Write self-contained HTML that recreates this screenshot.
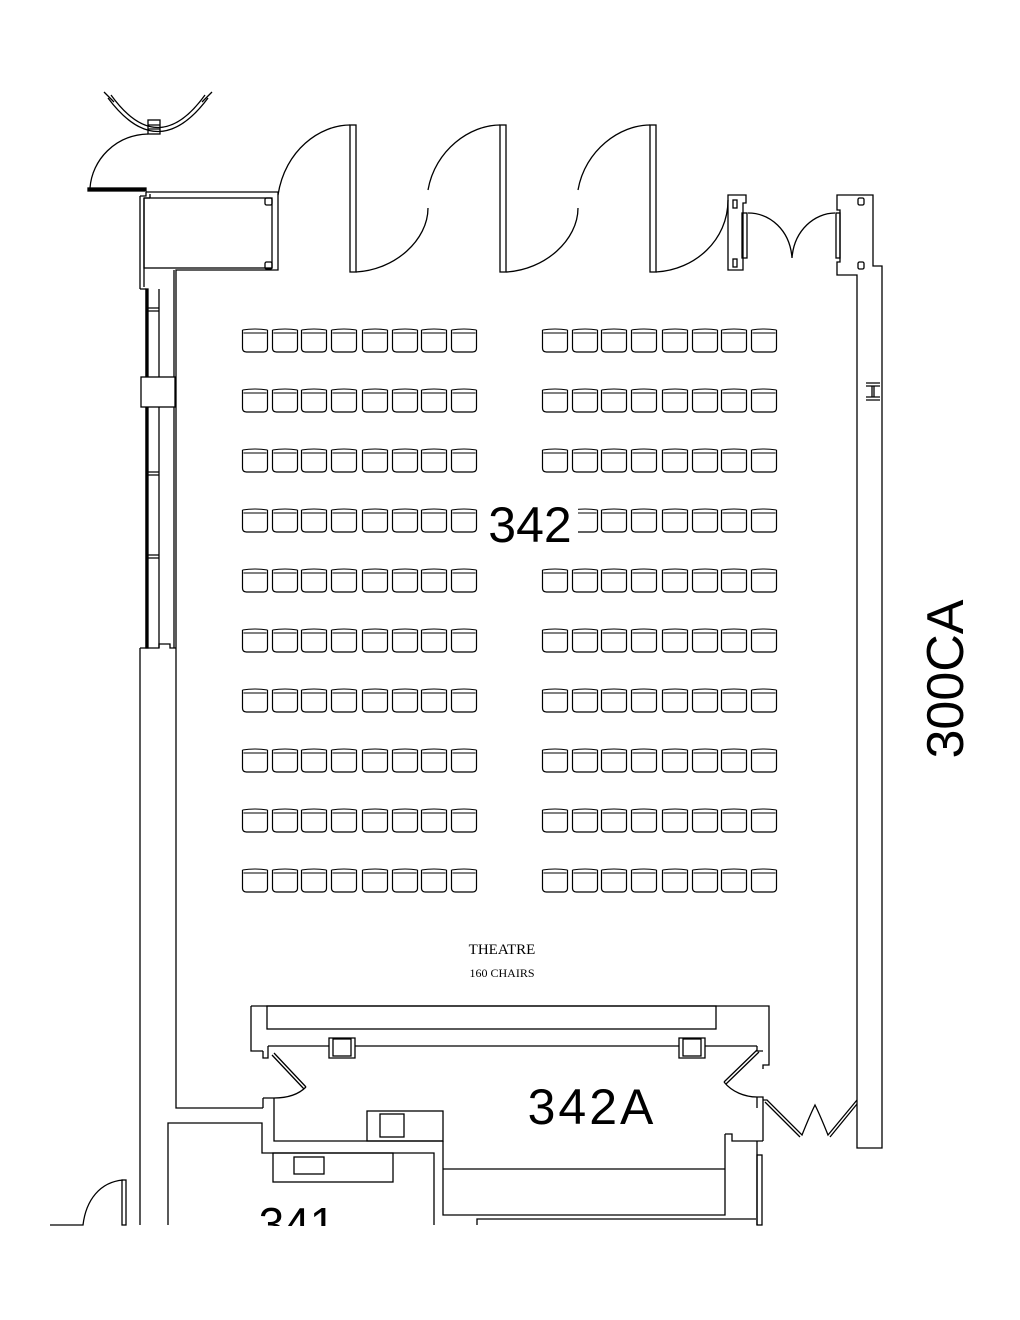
<!DOCTYPE html>
<html><head><meta charset="utf-8"><style>
html,body{margin:0;padding:0;background:#fff;}
svg{display:block}
text{font-family:"Liberation Sans",sans-serif;}
</style></head><body>
<svg width="1020" height="1320" viewBox="0 0 1020 1320" xmlns="http://www.w3.org/2000/svg">
<defs>
<g id="c"><path d="M0.5 2 L0.5 20 Q0.5 24 4.5 24 L21.5 24 Q25.5 24 25.5 20 L25.5 2" fill="none" stroke="#000" stroke-width="1.2"/><path d="M0.5 2 Q13 0 25.5 2 M1.5 5 L24.5 5" fill="none" stroke="#000" stroke-width="1"/></g>
<g id="r"><use href="#c" x="0"/><use href="#c" x="30"/><use href="#c" x="59"/><use href="#c" x="89"/><use href="#c" x="120"/><use href="#c" x="150"/><use href="#c" x="179"/><use href="#c" x="209"/></g>
<g id="rr"><use href="#r" x="242"/><use href="#r" x="542"/></g>
</defs>
<g fill="none" stroke="#000" stroke-width="1.3">
<path d="M108 98 Q158 165 208 98"/><path d="M111 95 Q158 160 205 95"/>
<path d="M104 92 L114 102 M212 92 L202 102"/>
<rect x="148" y="120" width="12" height="14"/><path d="M148 125 H160 M148 129 H160"/>
<path d="M90 188 C92 160 115 135 148 134"/>
<rect x="88" y="188" width="58" height="3" fill="#000"/>
<path d="M146 192 L278 192 L278 270 L176 270 L176 1108 L263 1108"/>
<path d="M140 196 L146 196 L146 192 M140 196 L140 289 M140 648 L140 1225"/>
<path d="M144 198 L144 287 M144 198 L150 198 M150 198 L150 194"/>
<rect x="144" y="198" width="128" height="70"/>
<rect x="265" y="198" width="7" height="7" rx="1.5"/><rect x="265" y="262" width="7" height="7" rx="1.5"/>
<path d="M146 289 V648 M159 289 V648 M174 270 V648"/>
<rect x="146" y="289" width="2" height="359" fill="#000"/>
<rect x="141" y="377" width="34" height="30" fill="#fff"/>
<path d="M146 308 H159 M146 311 H159 M146 472 H159 M146 475 H159 M146 555 H159 M146 558 H159"/>
<path d="M140 289 H146 M140 648 H159 L159 644 L170 644 L170 648 L176 648"/>
<rect x="350" y="125" width="6" height="147"/><rect x="500" y="125" width="6" height="147"/><rect x="650" y="125" width="6" height="147"/>
<path d="M278 195 C285 150 320 125 350 125"/>
<path d="M356 272 C395 270 428 240 428 208"/>
<path d="M428 190 C435 150 470 125 500 125"/>
<path d="M506 272 C545 270 578 240 578 208"/>
<path d="M578 190 C585 150 620 125 650 125"/>
<path d="M656 272 C695 270 728 240 728 200"/>
<path d="M728 195 H746 V203 H743 V270 H728 Z"/>
<rect x="733" y="200" width="4" height="8"/><rect x="733" y="259" width="4" height="8"/>
<rect x="742" y="213" width="5" height="45"/>
<path d="M748 213 C770 213 790 230 792 258 C794 230 815 213 835 213"/>
<rect x="836" y="213" width="4" height="45"/>
<path d="M837 195 H873 V266 H882 V1148 H857 V275 H837 V262 H840 V210 H837 Z"/>
<rect x="858" y="198" width="6" height="7" rx="1.5"/><rect x="858" y="262" width="6" height="7" rx="1.5"/>
<path d="M866 383 H880 M866 386 H880 M866 397 H880 M866 400 H880 M872 386 V397 M874 386 V397"/>
<path d="M251 1006 H769 V1065 H763 V1069"/>
<path d="M251 1006 V1051 H263"/>
<rect x="267" y="1006" width="449" height="23"/>
<path d="M268 1046 H329 M355 1046 H679 M705 1046 H757"/>
<path d="M329 1038 V1058 H355 V1038 Z"/><rect x="333" y="1039" width="18" height="17"/>
<path d="M679 1038 V1058 H705 V1038 Z"/><rect x="683" y="1039" width="18" height="17"/>
<path d="M263 1051 V1058 H268 V1046 M757 1046 V1051 H763"/>
<path d="M274 1053 L306 1087 M272 1055 L304 1089"/>
<path d="M306 1087 C298 1095 286 1098 274 1098"/>
<path d="M263 1098 H274 M263 1098 V1108 M274 1098 V1141 H443"/>
<rect x="367" y="1111" width="76" height="30"/><rect x="380" y="1114" width="24" height="23"/>
<path d="M757 1050 L724 1082 M759 1052 L726 1084"/>
<path d="M724 1082 C732 1092 745 1097 757 1097"/>
<path d="M757 1097 H763 V1141 M757 1097 V1108"/>
<path d="M763 1100 L767 1100 L802 1135 Q810 1115 815 1105 Q820 1115 828 1135 L857 1100"/>
<path d="M765 1102 L800 1137 M830 1137 L857 1104"/>
<path d="M725 1134 H732 V1141 H763 M725 1134 V1141 M757 1141 V1225"/>
<rect x="757" y="1155" width="5" height="70"/>
<path d="M168 1225 V1123 H262 V1153 H434 V1225"/>
<rect x="273" y="1153" width="120" height="29"/><rect x="294" y="1157" width="30" height="17"/>
<path d="M443 1141 V1215 H725 V1141 M443 1169 H725 M477 1225 V1219 H756"/>
<path d="M50 1225 H83 C86 1200 100 1182 123 1180"/>
<rect x="122" y="1180" width="4" height="45"/>
</g>
<g>
<use href="#rr" y="328"/><use href="#rr" y="388"/><use href="#rr" y="448"/><use href="#rr" y="508"/><use href="#rr" y="568"/>
<use href="#rr" y="628"/><use href="#rr" y="688"/><use href="#rr" y="748"/><use href="#rr" y="808"/><use href="#rr" y="868"/>
</g>
<rect x="482" y="497" width="96" height="50" fill="#fff"/>
<text x="530" y="542" font-size="50" text-anchor="middle">342</text>
<text x="502" y="954" font-size="15" text-anchor="middle" style="font-family:'Liberation Serif',serif">THEATRE</text>
<text x="502" y="977" font-size="12" text-anchor="middle" style="font-family:'Liberation Serif',serif">160 CHAIRS</text>
<text x="592" y="1124" font-size="50" text-anchor="middle" letter-spacing="3">342A</text>
<text x="297" y="1240" font-size="46" text-anchor="middle">341</text>
<rect x="0" y="1226" width="1020" height="94" fill="#fff"/>
<text transform="translate(963,679) rotate(-90)" font-size="52" text-anchor="middle">300CA</text>
</svg>
</body></html>
